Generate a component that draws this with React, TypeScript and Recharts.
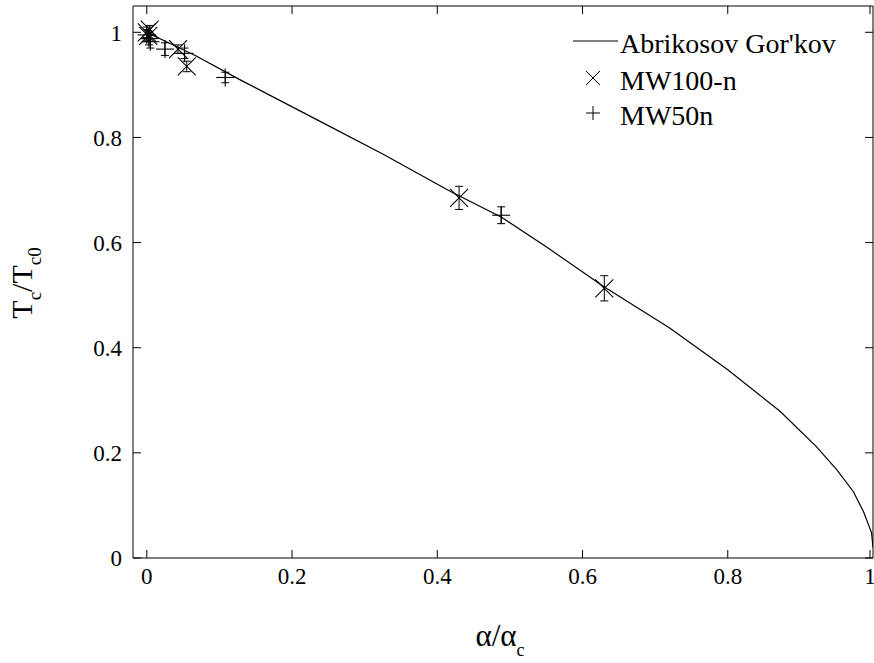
import React from 'react';
import { ScatterChart, Scatter, XAxis, YAxis, ErrorBar, Legend } from 'recharts';

const FONT = "'Liberation Serif', Tinos, 'Times New Roman', Times, 'DejaVu Serif', serif";

const xTicks = [0, 0.2, 0.4, 0.6, 0.8, 1];
const yTicks = [0, 0.2, 0.4, 0.6, 0.8, 1];

// Abrikosov–Gor'kov curve
const agAlpha = [0, 0.004, 0.03, 0.068, 0.128, 0.238, 0.3255, 0.417, 0.4885, 0.55, 0.6285, 0.72, 0.8, 0.872, 0.922, 0.95, 0.973, 0.987, 0.998, 1.0];
const agT = [1.0, 0.997, 0.98, 0.955, 0.91, 0.831, 0.768, 0.698, 0.648, 0.592, 0.517, 0.4375, 0.358, 0.279, 0.212, 0.168, 0.126, 0.088, 0.048, 0.02];

// MW100-n
const mw100Alpha = [0.0, 0.004, 0.002, 0.043, 0.055, 0.43, 0.63];
const mw100T = [1.0, 1.005, 0.993, 0.968, 0.935, 0.685, 0.513];
const mw100Err = [0.01, 0.008, 0.01, 0.008, 0.01, 0.022, 0.024];

// MW50n
const mw50Alpha = [0.0, 0.003, 0.005, 0.025, 0.052, 0.108, 0.488];
const mw50T = [0.995, 0.988, 0.982, 0.968, 0.96, 0.914, 0.652];
const mw50Err = [0.01, 0.012, 0.012, 0.012, 0.01, 0.01, 0.016];

const agData = agAlpha.map((x, i) => ({ x, y: agT[i] }));
const mw100Data = mw100Alpha.map((x, i) => ({ x, y: mw100T[i], err: mw100Err[i] }));
const mw50Data = mw50Alpha.map((x, i) => ({ x, y: mw50T[i], err: mw50Err[i] }));

const X_DOMAIN: [number, number] = [-0.019, 1];
const Y_DOMAIN: [number, number] = [0, 1.05];
const TICK_LEN = 8;

const fmt = (v: number) => String(v);

const BottomTick = (props: any) => {
  const { x, y, payload } = props;
  return (
    <g>
      <line x1={x} x2={x} y1={y} y2={y - TICK_LEN} stroke="#000" strokeWidth={1} />
      <text x={x} y={y + 26} textAnchor="middle" fontFamily={FONT} fontSize={23} fill="#000">
        {fmt(payload.value)}
      </text>
    </g>
  );
};

const TopTick = (props: any) => {
  const { x, y } = props;
  return <line x1={x} x2={x} y1={y} y2={y + TICK_LEN} stroke="#000" strokeWidth={1} />;
};

const LeftTick = (props: any) => {
  const { x, y, payload } = props;
  return (
    <g>
      <line x1={x} x2={x + TICK_LEN} y1={y} y2={y} stroke="#000" strokeWidth={1} />
      <text x={x - 11} y={y} dy="0.36em" textAnchor="end" fontFamily={FONT} fontSize={23} fill="#000">
        {fmt(payload.value)}
      </text>
    </g>
  );
};

const RightTick = (props: any) => {
  const { x, y } = props;
  return <line x1={x} x2={x - TICK_LEN} y1={y} y2={y} stroke="#000" strokeWidth={1} />;
};

const XLabel = (props: any) => {
  const vb = props.viewBox || {};
  const cx = vb.x + vb.width / 2 - 3;
  const by = vb.y + 88;
  return (
    <text x={cx} y={by} textAnchor="middle" fontFamily={FONT} fontSize={31} fill="#000">
      <tspan>α/α</tspan>
      <tspan dy={10} fontSize={18}>c</tspan>
    </text>
  );
};

const YLabel = (props: any) => {
  const vb = props.viewBox || {};
  const x = vb.x - 41;
  const y = vb.y + vb.height / 2 + 1;
  return (
    <text x={x} y={y} transform={`rotate(-90 ${x} ${y})`} textAnchor="middle" fontFamily={FONT} fontSize={30} fill="#000">
      <tspan>T</tspan>
      <tspan dy={9} fontSize={19}>c</tspan>
      <tspan dy={-9} fontSize={30}>/T</tspan>
      <tspan dy={9} fontSize={19}>c0</tspan>
    </text>
  );
};

const Cross = (props: any) => {
  const { cx, cy } = props;
  const s = 9;
  return (
    <g>
      <line x1={cx - s} y1={cy - s} x2={cx + s} y2={cy + s} stroke="#000" strokeWidth={1.1} />
      <line x1={cx - s} y1={cy + s} x2={cx + s} y2={cy - s} stroke="#000" strokeWidth={1.1} />
    </g>
  );
};

const Plus = (props: any) => {
  const { cx, cy } = props;
  const s = 9;
  return (
    <g>
      <line x1={cx - s} y1={cy} x2={cx + s} y2={cy} stroke="#000" strokeWidth={1.1} />
      <line x1={cx} y1={cy - s} x2={cx} y2={cy + s} stroke="#000" strokeWidth={1.1} />
    </g>
  );
};

const NoShape = () => <g />;

const LegendContent = () => (
  <svg width={310} height={140} style={{ display: 'block' }}>
    <line x1={13} x2={58} y1={41} y2={41} stroke="#000" strokeWidth={1} />
    <text x={60} y={53} fontFamily={FONT} fontSize={28} fill="#000">Abrikosov Gor'kov</text>
    <line x1={26} y1={71} x2={40} y2={85} stroke="#000" strokeWidth={1} />
    <line x1={26} y1={85} x2={40} y2={71} stroke="#000" strokeWidth={1} />
    <text x={60} y={90} fontFamily={FONT} fontSize={28} fill="#000">MW100-n</text>
    <line x1={26} y1={113} x2={40} y2={113} stroke="#000" strokeWidth={1} />
    <line x1={33} y1={106} x2={33} y2={120} stroke="#000" strokeWidth={1} />
    <text x={60} y={125} fontFamily={FONT} fontSize={28} fill="#000">MW50n</text>
  </svg>
);

export default function App() {
  return (
    <div style={{ position: 'absolute', left: 0, top: 0, background: '#fff' }}>
      <ScatterChart width={874} height={663} margin={{ top: 0, right: 0, left: 73, bottom: 65 }}>
        <XAxis
          dataKey="x"
          type="number"
          domain={X_DOMAIN}
          ticks={xTicks}
          allowDataOverflow
          tickLine={false}
          tickSize={0}
          tickMargin={0}
          tick={BottomTick}
          axisLine={{ stroke: '#000', strokeWidth: 1 }}
          height={40}
          label={{ content: XLabel }}
        />
        <XAxis
          xAxisId="top"
          orientation="top"
          dataKey="x"
          type="number"
          domain={X_DOMAIN}
          ticks={xTicks}
          allowDataOverflow
          tickLine={false}
          tickSize={0}
          tickMargin={0}
          tick={TopTick}
          axisLine={{ stroke: '#000', strokeWidth: 1 }}
          height={6}
        />
        <YAxis
          dataKey="y"
          type="number"
          domain={Y_DOMAIN}
          ticks={yTicks}
          allowDataOverflow
          tickLine={false}
          tickSize={0}
          tickMargin={0}
          tick={LeftTick}
          axisLine={{ stroke: '#000', strokeWidth: 1 }}
          width={60}
          label={{ content: YLabel }}
        />
        <YAxis
          yAxisId="right"
          orientation="right"
          dataKey="y"
          type="number"
          domain={Y_DOMAIN}
          ticks={yTicks}
          allowDataOverflow
          tickLine={false}
          tickSize={0}
          tickMargin={0}
          tick={RightTick}
          axisLine={{ stroke: '#000', strokeWidth: 1 }}
          width={1}
        />
        <Legend
          layout="horizontal"
          verticalAlign="middle"
          align="center"
          wrapperStyle={{ left: 560, top: 0, width: 310, height: 140 }}
          content={LegendContent}
        />
        <Scatter
          name="Abrikosov Gor'kov"
          data={agData}
          line={{ stroke: '#000', strokeWidth: 1.2 }}
          lineType="joint"
          shape={NoShape}
          isAnimationActive={false}
        />
        <Scatter name="MW100-n" data={mw100Data} shape={Cross} isAnimationActive={false}>
          <ErrorBar dataKey="err" direction="y" width={4} stroke="#000" strokeWidth={1} isAnimationActive={false} />
        </Scatter>
        <Scatter name="MW50n" data={mw50Data} shape={Plus} isAnimationActive={false}>
          <ErrorBar dataKey="err" direction="y" width={4} stroke="#000" strokeWidth={1} isAnimationActive={false} />
        </Scatter>
      </ScatterChart>
    </div>
  );
}
